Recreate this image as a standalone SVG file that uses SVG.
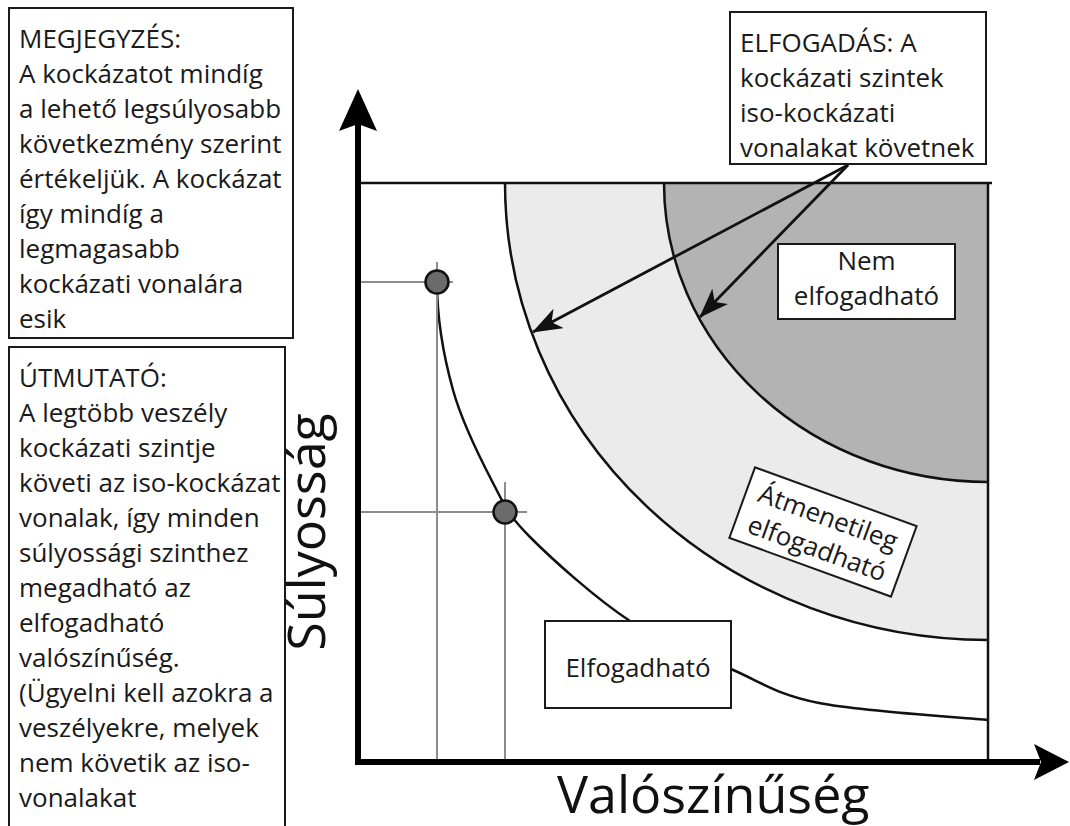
<svg xmlns="http://www.w3.org/2000/svg" width="1070" height="826" viewBox="0 0 1070 826">
  <defs>
    <style>
      .txt { font-family: "Open Sans", "Noto Sans", "Liberation Sans", sans-serif; font-size: 26px; fill: #1a1a1a; }
      .big { font-family: "Open Sans", "Noto Sans", "Liberation Sans", sans-serif; font-size: 52px; fill: #111; }
      .box { fill: #fff; stroke: #1a1a1a; stroke-width: 2; }
      .edge { fill: none; stroke: #111; stroke-width: 2.5; }
      .guide { fill: none; stroke: #8c8c8c; stroke-width: 2; }
      .axis { fill: none; stroke: #000; stroke-width: 6; }
      .pt { fill: #6b6b6b; stroke: #111; stroke-width: 2.5; }
      .conn { fill: none; stroke: #111; stroke-width: 2.8; }
    </style>
    <marker id="barb" viewBox="0 0 30 22" refX="29" refY="11" markerWidth="30" markerHeight="22" markerUnits="userSpaceOnUse" orient="auto">
      <path d="M30,11 L0,0 L8,11 L0,22 Z" fill="#111"/>
    </marker>
  </defs>

  <!-- risk zones -->
  <g id="zones">
    <path d="M505,183 A483,457 0 0 0 988,640 L988,183 Z" fill="#ebebeb"/>
    <path d="M664,183 A324,299 0 0 0 988,482 L988,183 Z" fill="#b3b3b3"/>
    <path class="edge" d="M505,183 A483,457 0 0 0 988,640"/>
    <path class="edge" d="M664,183 A324,299 0 0 0 988,482"/>
    <!-- iso-risk curve through the two sample hazards -->
    <path class="edge" d="M437,282 C437,318 443.7,356.5 453,390 C462.3,423.5 480.2,458.5 493,483 C505.8,507.5 507.2,514 530,537 C552.8,560 596.5,599 630,621 C663.5,643 699.5,655.3 731,669 C762.5,682.7 776.2,694.5 819,703 C861.8,711.5 959.8,717.2 988,720"/>
    <line class="edge" x1="357" y1="183" x2="992" y2="183"/>
    <line class="edge" x1="988" y1="183" x2="988" y2="762"/>
  </g>

  <!-- sample hazards with guide lines -->
  <g id="hazard-1">
    <line class="guide" x1="358" y1="282" x2="453" y2="282"/>
    <line class="guide" x1="437" y1="262" x2="437" y2="762"/>
    <circle class="pt" cx="437" cy="282" r="11.5"/>
  </g>
  <g id="hazard-2">
    <line class="guide" x1="358" y1="512" x2="527" y2="512"/>
    <line class="guide" x1="505" y1="482" x2="505" y2="762"/>
    <circle class="pt" cx="505" cy="512" r="11.5"/>
  </g>

  <!-- axes -->
  <g id="axes">
    <line class="axis" x1="358" y1="765" x2="358" y2="122"/>
    <polygon points="358,89 339,131 358,124 377,131" fill="#000"/>
    <line class="axis" x1="355" y1="762" x2="1040" y2="762"/>
    <polygon points="1069,762 1034,744 1041,762 1034,780" fill="#000"/>
    <text class="big" x="557" y="813">Valószínűség</text>
    <text class="big" transform="translate(325,532) rotate(-90)" text-anchor="middle">Súlyosság</text>
  </g>

  <!-- zone labels -->
  <g id="label-unacceptable">
    <rect class="box" x="778" y="244" width="177" height="75"/>
    <text class="txt" x="866.5" y="270" text-anchor="middle">Nem</text>
    <text class="txt" x="866.5" y="305" text-anchor="middle">elfogadható</text>
  </g>
  <g id="label-tolerable" transform="translate(823,532) rotate(20)">
    <rect class="box" x="-86" y="-37.5" width="172" height="75"/>
    <text class="txt" x="0" y="-6.5" text-anchor="middle">Átmenetileg</text>
    <text class="txt" x="0" y="26.5" text-anchor="middle">elfogadható</text>
  </g>
  <g id="label-acceptable">
    <rect class="box" x="545" y="621" width="186" height="87"/>
    <text class="txt" x="638" y="677" text-anchor="middle">Elfogadható</text>
  </g>

  <!-- notes -->
  <g id="note-megjegyzes">
    <rect class="box" x="9" y="8" width="284" height="330"/>
    <text class="txt" x="19" y="48">MEGJEGYZÉS:</text>
    <text class="txt" x="19" y="83">A kockázatot mindíg</text>
    <text class="txt" x="19" y="118">a lehető legsúlyosabb</text>
    <text class="txt" x="19" y="153">következmény szerint</text>
    <text class="txt" x="19" y="188">értékeljük. A kockázat</text>
    <text class="txt" x="19" y="223">így mindíg a</text>
    <text class="txt" x="19" y="258">legmagasabb</text>
    <text class="txt" x="19" y="293">kockázati vonalára</text>
    <text class="txt" x="19" y="328">esik</text>
  </g>
  <g id="note-utmutato">
    <rect class="box" x="9" y="347" width="276" height="500"/>
    <text class="txt" x="19" y="387">ÚTMUTATÓ:</text>
    <text class="txt" x="19" y="422">A legtöbb veszély</text>
    <text class="txt" x="19" y="457">kockázati szintje</text>
    <text class="txt" x="19" y="492">követi az iso-kockázat</text>
    <text class="txt" x="19" y="527">vonalak, így minden</text>
    <text class="txt" x="19" y="562">súlyossági szinthez</text>
    <text class="txt" x="19" y="597">megadható az</text>
    <text class="txt" x="19" y="632">elfogadható</text>
    <text class="txt" x="19" y="667">valószínűség.</text>
    <text class="txt" x="19" y="702">(Ügyelni kell azokra a</text>
    <text class="txt" x="19" y="737">veszélyekre, melyek</text>
    <text class="txt" x="19" y="772">nem követik az iso-</text>
    <text class="txt" x="19" y="807">vonalakat</text>
  </g>
  <g id="note-elfogadas">
    <rect class="box" x="730" y="12" width="256" height="152"/>
    <text class="txt" x="740" y="52">ELFOGADÁS: A</text>
    <text class="txt" x="740" y="87">kockázati szintek</text>
    <text class="txt" x="740" y="122">iso-kockázati</text>
    <text class="txt" x="740" y="157">vonalakat követnek</text>
  </g>

  <!-- connectors from the acceptance note to the iso-risk lines -->
  <g id="connectors">
    <line class="conn" x1="848" y1="165" x2="533" y2="332" marker-end="url(#barb)"/>
    <line class="conn" x1="848" y1="165" x2="700" y2="317" marker-end="url(#barb)"/>
  </g>
</svg>
